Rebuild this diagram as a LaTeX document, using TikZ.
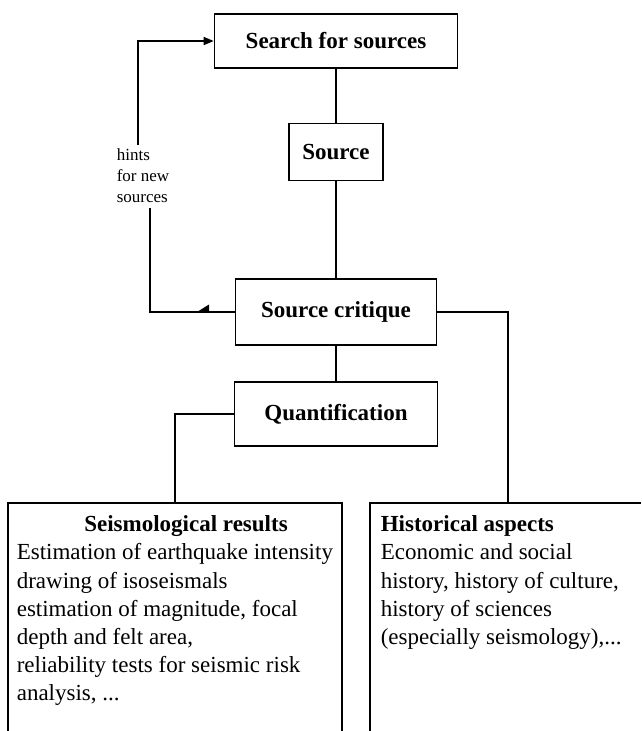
\documentclass[tikz,border=0pt]{standalone}
\usepackage{fontspec}
\setmainfont{Liberation Serif}
\usetikzlibrary{arrows.meta}
\begin{document}
\begin{tikzpicture}[x=1pt,y=-1pt,line width=1.6pt,
  box/.style={draw,line width=1.6pt,inner sep=0pt,font=\fontsize{23}{28}\selectfont\bfseries},
  body/.style={anchor=north west,inner sep=0pt,align=left,font=\fontsize{23}{28.2}\selectfont},
  head/.style={inner sep=0pt,font=\fontsize{23}{28.2}\selectfont\bfseries},
  tip/.style={-{Triangle[length=10pt,width=8pt]}}]
\useasboundingbox (0,0) rectangle (641,731);
% main boxes
\node[box,minimum width=243pt,minimum height=54pt] (search) at (336,41) {Search for sources};
\node[box,minimum width=94pt,minimum height=57pt] (source) at (336,152) {Source};
\node[box,minimum width=201pt,minimum height=66pt] (crit) at (336,312) {Source critique};
\node[box,minimum width=203pt,minimum height=64pt] (quant) at (336,414) {Quantification};
% vertical chain
\draw (search.south) -- (source.north);
\draw (source.south) -- (crit.north);
\draw (crit.south) -- (quant.north);
% feedback loop
\coordinate (lt) at (138,145);
\coordinate (lb) at (150,208);
\coordinate (halftip) at (197,312);
\node[anchor=north west,inner sep=0pt,align=left,font=\fontsize{17}{21}\selectfont] (hints) at (116,145.3) {\strut hints\\for new\\sources};
\draw[tip] (lt) |- (search.west);
\draw (crit.west) -| (lb);
\fill (halftip) -- ++(12,-7.5) -- ++(0,7.5) -- cycle;
% bottom boxes
\coordinate (lbtop) at (175,503);
\coordinate (rbtop) at (508,503);
\draw (8,731) -- (8,503) -- (342,503) -- (342,731);
\draw (370,731) -- (370,503) -- (641,503);
\draw (quant.west) -| (lbtop);
\draw (crit.east) -| (rbtop);
% texts
\node[head,anchor=base] (seis) at (186,531) {Seismological results};
\node[body] (seistext) at (16,539.26) {\strut Estimation of earthquake intensity\\drawing of isoseismals\\estimation of magnitude, focal\\depth and felt area,\\reliability tests for seismic risk\\analysis, ...};
\node[head,anchor=base west] (hist) at (380,531) {Historical aspects};
\node[body] (histtext) at (380,539.26) {\strut Economic and social\\history, history of culture,\\history of sciences\\(especially seismology),...};
\end{tikzpicture}
\end{document}
